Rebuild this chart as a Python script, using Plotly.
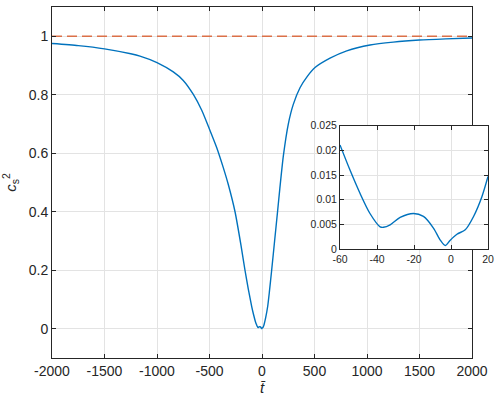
import plotly.graph_objects as go

# main curve c_s^2 vs t-bar
t_main = [-2000, -1750, -1500, -1250, -1162, -1000, -845, -750, -654, -574,
          -502, -431, -368, -321, -257, -200, -162, -130, -98, -80,
          -60, -54.6, -49.2, -43.8, -38.3, -36.5, -32.9, -27.5, -20.3, -14.9,
          -9.4, -5.8, -3.1, -0.4, 3.2, 7.7, 12.2, 16.7, 20,
          35, 54, 70, 92, 120, 148, 170, 203, 250, 298, 362, 430, 505,
          648, 807, 1029, 1250, 1500, 1750, 2000]
cs2_main = [0.975, 0.968, 0.957, 0.940, 0.932, 0.910, 0.878, 0.849, 0.801, 0.747,
            0.684, 0.619, 0.55, 0.493, 0.4, 0.285, 0.2, 0.135, 0.076, 0.048,
            0.0211, 0.016, 0.0113, 0.0072, 0.0045, 0.0044, 0.0049, 0.0064, 0.0072, 0.0066,
            0.0042, 0.0018, 0.0007, 0.0018, 0.003, 0.0039, 0.0066, 0.0106, 0.0147,
            0.038, 0.076, 0.125, 0.2, 0.3, 0.4, 0.48, 0.59, 0.699, 0.767, 0.824, 0.862, 0.893,
            0.925, 0.950, 0.970, 0.980, 0.987, 0.991, 0.994]

# zoomed region for the inset
t_zoom = [-60, -54.6, -49.2, -43.8, -38.3, -36.5, -32.9, -27.5, -20.3, -14.9,
          -9.4, -5.8, -3.1, -0.4, 3.2, 7.7, 12.2, 16.7, 20]
cs2_zoom = [0.0211, 0.016, 0.0113, 0.0072, 0.0045, 0.0044, 0.0049, 0.0064, 0.0072, 0.0066,
            0.0042, 0.0018, 0.0007, 0.0018, 0.003, 0.0039, 0.0066, 0.0106, 0.0147]

# light-speed reference line
t_ref = [-2000, 2000]
cs2_ref = [1, 1]

main_xticks = [-2000, -1500, -1000, -500, 0, 500, 1000, 1500, 2000]
main_yticks = [0, 0.2, 0.4, 0.6, 0.8, 1]
zoom_xticks = [-60, -40, -20, 0, 20]
zoom_yticks = [0, 0.005, 0.01, 0.015, 0.02, 0.025]

BLUE = "#0072BD"
ORANGE = "#DB7048"
AXC = "#262626"
GRID = "#e3e3e3"

fig = go.Figure()
fig.add_trace(go.Scatter(x=t_main, y=cs2_main, mode="lines",
                         line=dict(color=BLUE, width=1.4, shape="spline", smoothing=0.6),
                         xaxis="x", yaxis="y", showlegend=False))
fig.add_trace(go.Scatter(x=t_ref, y=cs2_ref, mode="lines",
                         line=dict(color=ORANGE, width=1.5, dash="10px,5px"),
                         xaxis="x", yaxis="y", showlegend=False))
fig.add_trace(go.Scatter(x=t_zoom, y=cs2_zoom, mode="lines",
                         line=dict(color=BLUE, width=1.4, shape="spline", smoothing=0.8),
                         xaxis="x2", yaxis="y2", showlegend=False))

axis_common = dict(showline=True, linecolor=AXC, linewidth=1, mirror="allticks",
                   ticks="inside", ticklen=4, tickcolor=AXC, automargin=False,
                   showgrid=True, gridcolor=GRID, gridwidth=1, zeroline=False)


def labels(vals):
    # MATLAB style: plain hyphen for negatives
    return [("%g" % v) for v in vals]


fig.update_layout(
    width=500, height=401,
    margin=dict(l=52, r=12, t=7, b=43),
    paper_bgcolor="white", plot_bgcolor="white",
    font=dict(family="Liberation Sans, Arial, sans-serif", color=AXC),
    xaxis=dict(axis_common, domain=[0, 420 / 436], range=[-2000, 2000],
               tickvals=main_xticks, ticktext=labels(main_xticks),
               tickfont=dict(size=14),
               title=dict(text="<i>t\u0304</i>", font=dict(size=15), standoff=0)),
    yaxis=dict(axis_common, domain=[0, 1], range=[-0.1, 1.1],
               tickvals=main_yticks, ticktext=labels(main_yticks),
               tickfont=dict(size=14),
               title=dict(text="<i>c</i><sub>s</sub><sup>2</sup>", font=dict(size=15), standoff=10)),
    xaxis2=dict(axis_common, domain=[288 / 436, 1], range=[-60, 20], anchor="y2",
                tickvals=zoom_xticks, ticktext=labels(zoom_xticks), tickfont=dict(size=10.5)),
    yaxis2=dict(axis_common, domain=[0.3105, 0.6618], range=[0, 0.025], anchor="x2",
                tickvals=zoom_yticks, ticktext=labels(zoom_yticks), tickfont=dict(size=10.5)),
)

# page body has a default 8px margin; drop it so the figure sits at the window corner
fig.write_html("out.html", config={"displayModeBar": False},
               post_script="document.body.style.margin='0';")
